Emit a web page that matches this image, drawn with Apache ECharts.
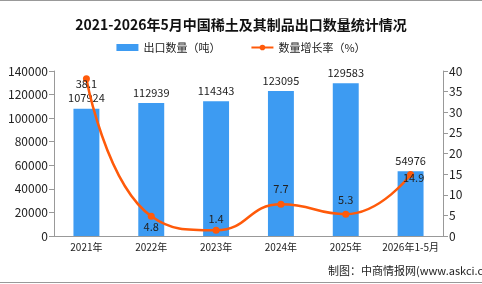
<!DOCTYPE html>
<html><head><meta charset="utf-8">
<script src="https://cdn.jsdelivr.net/npm/echarts@6/dist/echarts.min.js"></script>
<style>html,body{margin:0;padding:0;background:#fff}#c{width:482px;height:284px}</style>
</head><body><div id="c"></div>
<script>
var categories = ['2021年','2022年','2023年','2024年','2025年','2026年1-5月'];
var exportQty = [107924, 112939, 114343, 123095, 129583, 54976];
var growthRate = [38.1, 4.8, 1.4, 7.7, 5.3, 14.9];
var leftTicks = {min: 0, max: 140000, interval: 20000};
var rightTicks = {min: 0, max: 40, interval: 5};

var labelOffsets = [[0, 5], [0, 11], [0, -11], [0, -15], [0, -14], [3, 3]];
var font = '"Noto Sans CJK SC", sans-serif';
var chart = echarts.init(document.getElementById('c'));
chart.setOption({
  animation: false,
  textStyle: {fontFamily: font},
  title: {text: '2021-2026年5月中国稀土及其制品出口数量统计情况', left: 'center', top: 13,
    textStyle: {fontSize: 14, fontWeight: 'bold', color: '#111', fontFamily: font}},
  legend: {top: 37, left: 'center', itemGap: 30, itemWidth: 22, itemHeight: 7,
    textStyle: {fontSize: 11, color: '#222'},
    data: [{name: '出口数量（吨）', icon: 'rect'}, {name: '数量增长率（%）'}]},
  grid: {left: 54, right: 39, top: 71, bottom: 48},
  xAxis: {type: 'category', data: categories,
    axisLine: {lineStyle: {color: '#999'}}, axisTick: {lineStyle: {color: '#999'}},
    axisLabel: {color: '#222', fontSize: 10, margin: 6, interval: 0}},
  yAxis: [
    {type: 'value', min: leftTicks.min, max: leftTicks.max, interval: leftTicks.interval,
      splitLine: {show: false}, axisLine: {show: true, lineStyle: {color: '#999'}},
      axisTick: {show: true, lineStyle: {color: '#999'}},
      axisLabel: {color: '#222', fontSize: 12, margin: 6, formatter: function (v) { return String(v); }}},
    {type: 'value', min: rightTicks.min, max: rightTicks.max, interval: rightTicks.interval,
      splitLine: {show: false}, axisLine: {show: true, lineStyle: {color: '#999'}},
      axisTick: {show: true, lineStyle: {color: '#999'}},
      axisLabel: {color: '#222', fontSize: 12, margin: 6}}
  ],
  series: [
    {name: '出口数量（吨）', type: 'bar', data: exportQty, barWidth: '40%',
      itemStyle: {color: '#3d9bf2'},
      label: {show: true, position: 'top', distance: 5, color: '#222', fontSize: 11,
        formatter: function (p) { return String(p.value); }}},
    {name: '数量增长率（%）', type: 'line', yAxisIndex: 1, smooth: true,
      data: growthRate.map(function (v, i) {
        return {value: v, label: {offset: labelOffsets[i]}};
      }),
      symbol: 'circle', symbolSize: 7,
      lineStyle: {color: '#ff5a0a', width: 2.5}, itemStyle: {color: '#ff5a0a'},
      label: {show: true, position: 'inside', color: '#222', fontSize: 11}}
  ],
  graphic: [
    {type: 'line', shape: {x1: 0, y1: 0.5, x2: 482, y2: 0.5}, style: {stroke: '#999', lineWidth: 1}},
    {type: 'line', shape: {x1: 0, y1: 282.5, x2: 482, y2: 282.5}, style: {stroke: '#999', lineWidth: 1}},
    {type: 'text', left: 328, top: 265, style: {text: '制图：中商情报网(www.askci.com)', fill: '#222', font: '11px ' + font}}
  ]
});
</script></body></html>
